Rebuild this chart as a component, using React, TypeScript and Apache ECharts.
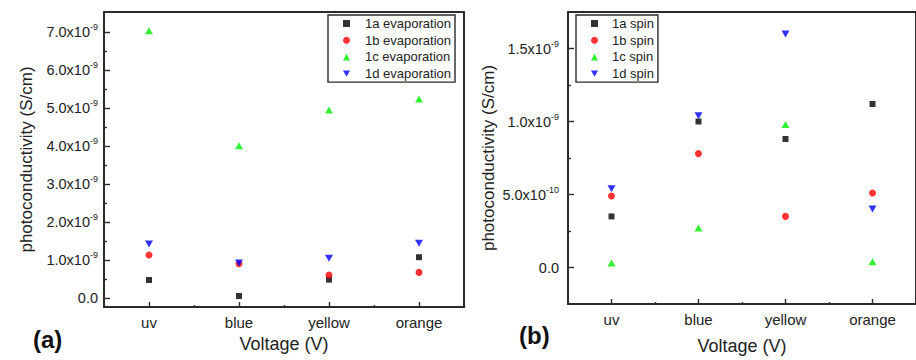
import React, { useEffect, useRef } from "react";
import * as echarts from "echarts";

// Categories (x axis)
const categories = ["uv", "blue", "yellow", "orange"];

// Panel (a): evaporation, photoconductivity in S/cm
const evap1a = [0.47e-9, 0.05e-9, 0.48e-9, 1.07e-9];
const evap1b = [1.13e-9, 0.9e-9, 0.6e-9, 0.67e-9];
const evap1c = [7.03e-9, 4.0e-9, 4.94e-9, 5.23e-9];
const evap1d = [1.42e-9, 0.92e-9, 1.04e-9, 1.44e-9];

// Panel (b): spin, photoconductivity in S/cm
const spin1a = [0.35e-9, 1.0e-9, 0.88e-9, 1.12e-9];
const spin1b = [0.49e-9, 0.78e-9, 0.35e-9, 0.51e-9];
const spin1c = [0.03e-9, 0.27e-9, 0.98e-9, 0.04e-9];
const spin1d = [0.54e-9, 1.04e-9, 1.6e-9, 0.4e-9];

// Tick values
const leftMajorTicks = [0, 1e-9, 2e-9, 3e-9, 4e-9, 5e-9, 6e-9, 7e-9];
const leftMinorTicks = [0.5e-9, 1.5e-9, 2.5e-9, 3.5e-9, 4.5e-9, 5.5e-9, 6.5e-9];
const rightMajorTicks = [0, 5e-10, 1e-9, 1.5e-9];
const rightMinorTicks = [2.5e-10, 7.5e-10, 1.25e-9];

const evapNames = ["1a evaporation", "1b evaporation", "1c evaporation", "1d evaporation"];
const spinNames = ["1a spin", "1b spin", "1c spin", "1d spin"];

const FONT = "'Liberation Sans', Arial, sans-serif";
const DOWN_TRI = "path://M0,0L10,0L5,9Z";
const markers = [
  { symbol: "rect", size: 6, color: "#000000" },
  { symbol: "circle", size: 7, color: "#ff0000" },
  { symbol: "triangle", size: [8, 7], color: "#00ee00" },
  { symbol: DOWN_TRI, size: [8, 7], color: "#0000ff" },
];

const fmt = (v: number) => {
  if (Math.abs(v) < 1e-20) return "{b|0.0}";
  const exp = Math.floor(Math.log10(Math.abs(v)) + 1e-9);
  const mant = (v / Math.pow(10, exp)).toFixed(1);
  return `{b|${mant}x10}{s|${exp}}`;
};

const rich = {
  b: { fontSize: 14.5, color: "#222", fontFamily: FONT },
  s: { fontSize: 9, color: "#222", fontFamily: FONT, padding: [0, 0, 10, 0] },
};

export default function App() {
  const ref = useRef<HTMLDivElement>(null);
  useEffect(() => {
    if (!ref.current) return;
    const chart = echarts.init(ref.current, null, { renderer: "svg" });
    const lineStyle = { color: "#2a2a2a", width: 2 };
    const tickStyle = { color: "#2a2a2a", width: 1.4 };

    const makeX = (gridIndex: number, nameGap: number) => [
      {
        gridIndex,
        type: "category",
        data: categories,
        boundaryGap: true,
        position: "bottom",
        axisLine: { show: true, onZero: false, lineStyle },
        axisTick: { show: true, alignWithLabel: true, inside: true, length: 5, lineStyle: tickStyle },
        axisLabel: { fontSize: 15, color: "#222", margin: 8, fontFamily: FONT },
        splitLine: { show: false },
        name: "Voltage (V)",
        nameLocation: "middle",
        nameGap,
        nameTextStyle: { fontSize: 18, color: "#222", fontFamily: FONT },
      },
      {
        gridIndex,
        type: "category",
        data: categories,
        boundaryGap: true,
        position: "bottom",
        axisLine: { show: false, onZero: false },
        axisTick: { show: true, alignWithLabel: false, inside: true, length: 2, lineStyle: tickStyle },
        axisLabel: { show: false },
        splitLine: { show: false },
      },
      {
        gridIndex,
        type: "category",
        data: categories,
        boundaryGap: true,
        position: "top",
        axisLine: { show: true, onZero: false, lineStyle },
        axisTick: { show: false },
        axisLabel: { show: false },
        splitLine: { show: false },
      },
    ];

    const makeY = (
      gridIndex: number,
      min: number,
      max: number,
      majors: number[],
      minors: number[],
      margin: number,
      nameGap: number
    ) => [
      {
        gridIndex,
        type: "value",
        position: "left",
        min,
        max,
        axisLine: { show: true, onZero: false, lineStyle },
        axisTick: { show: true, inside: true, length: 6, customValues: majors, lineStyle: tickStyle },
        axisLabel: { show: true, customValues: majors, formatter: fmt, rich, margin },
        splitLine: { show: false },
        name: "photoconductivity (S/cm)",
        nameLocation: "middle",
        nameGap,
        nameRotate: 90,
        nameTextStyle: { fontSize: 17, color: "#222", fontFamily: FONT },
      },
      {
        gridIndex,
        type: "value",
        position: "left",
        min,
        max,
        axisLine: { show: false, onZero: false },
        axisTick: { show: true, inside: true, length: 3, customValues: minors, lineStyle: tickStyle },
        axisLabel: { show: false },
        splitLine: { show: false },
      },
      {
        gridIndex,
        type: "value",
        position: "right",
        min,
        max,
        axisLine: { show: true, onZero: false, lineStyle },
        axisTick: { show: false },
        axisLabel: { show: false },
        splitLine: { show: false },
      },
    ];

    const evapData = [evap1a, evap1b, evap1c, evap1d];
    const spinData = [spin1a, spin1b, spin1c, spin1d];

    const series: any[] = [];
    evapData.forEach((d, i) => {
      series.push({
        name: evapNames[i],
        type: "scatter",
        xAxisIndex: 0,
        yAxisIndex: 0,
        symbol: markers[i].symbol,
        symbolSize: markers[i].size,
        itemStyle: { color: markers[i].color },
        data: d.map((v, j) => [categories[j], v]),
      });
    });
    spinData.forEach((d, i) => {
      series.push({
        name: spinNames[i],
        type: "scatter",
        xAxisIndex: 3,
        yAxisIndex: 3,
        symbol: markers[i].symbol,
        symbolSize: markers[i].size,
        itemStyle: { color: markers[i].color },
        data: d.map((v, j) => [categories[j], v]),
      });
    });

    const legendCommon = {
      orient: "vertical",
      selectedMode: false,
      itemWidth: 7,
      itemHeight: 7,
      itemGap: 1.7,
      padding: [1, 4, 1, 15],
      borderColor: "#2a2a2a",
      borderWidth: 1.4,
      backgroundColor: "#fff",
      textStyle: { fontSize: 13, color: "#222", fontFamily: FONT, lineHeight: 15 },
    };

    chart.setOption({
      animation: false,
      textStyle: { fontFamily: FONT },
      grid: [
        { left: 104, top: 12, width: 360, height: 295 },
        { left: 568, top: 12, width: 360, height: 295 },
      ],
      xAxis: [...makeX(0, 27), ...makeX(1, 33)],
      yAxis: [
        ...makeY(0, -0.24e-9, 7.52e-9, leftMajorTicks, leftMinorTicks, 6, 69),
        ...makeY(1, -0.25e-9, 1.75e-9, rightMajorTicks, rightMinorTicks, 9, 71),
      ],
      legend: [
        { ...legendCommon, left: 328, top: 15, data: evapNames, textStyle: { ...legendCommon.textStyle, padding: [0, 0, 0, 10] } },
        { ...legendCommon, left: 576, top: 15, data: spinNames, textStyle: { ...legendCommon.textStyle, padding: [0, 0, 0, 9] } },
      ],
      graphic: [
        { type: "text", left: 33, top: 327, style: { text: "(a)", font: `bold 24px ${FONT}`, fill: "#111" } },
        { type: "text", left: 519, top: 323, style: { text: "(b)", font: `bold 24px ${FONT}`, fill: "#111" } },
      ],
      series,
    });
    return () => chart.dispose();
  }, []);
  return <div ref={ref} style={{ position: "absolute", left: 0, top: 0, width: 916, height: 360 }} />;
}
